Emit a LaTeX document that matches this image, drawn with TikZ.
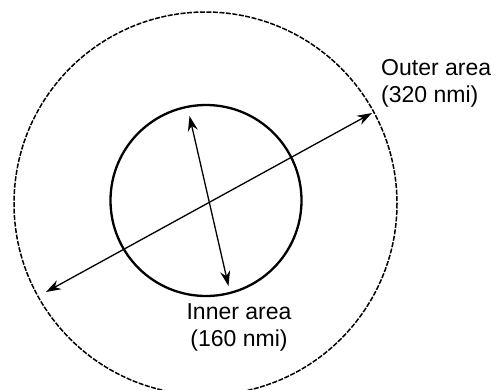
\documentclass[tikz,border=0pt]{standalone}
\usepackage{fontspec}
\setmainfont{Liberation Sans}
\usetikzlibrary{positioning, arrows.meta}

\tikzset{
    areatext/.style={inner sep=0pt, font=\fontsize{23}{27}\selectfont},
    span/.style={{Stealth[length=15pt,width=10pt]}-{Stealth[length=15pt,width=10pt]}, line width=1.3pt}
}

\begin{document}
\begin{tikzpicture}[x=1pt, y=-1pt]
    \useasboundingbox (0,0) rectangle (498,389);
    \clip (0,0) rectangle (498,389);
    % areas
    \coordinate (c) at (205.5,203.5);
    \draw[line width=1.5pt, dash pattern=on 5pt off 1.5pt] (c) circle (191.5);
    \draw[line width=2.3pt] (206,200.5) circle (95.5);
    % diameters
    \coordinate (o1) at (46,292);
    \coordinate (o2) at (372,113);
    \coordinate (i1) at (189.5,116);
    \coordinate (i2) at (228.5,286);
    \draw[span] (o1) -- (o2);
    \draw[span] (i1) -- (i2);
    % labels
    \node[areatext, anchor=north west, align=left] (outer) at (381,59) {Outer area\\(320 nmi)};
    \node[areatext, anchor=north, align=center] (inner) at (239,303) {Inner area\\(160 nmi)};
\end{tikzpicture}
\end{document}
